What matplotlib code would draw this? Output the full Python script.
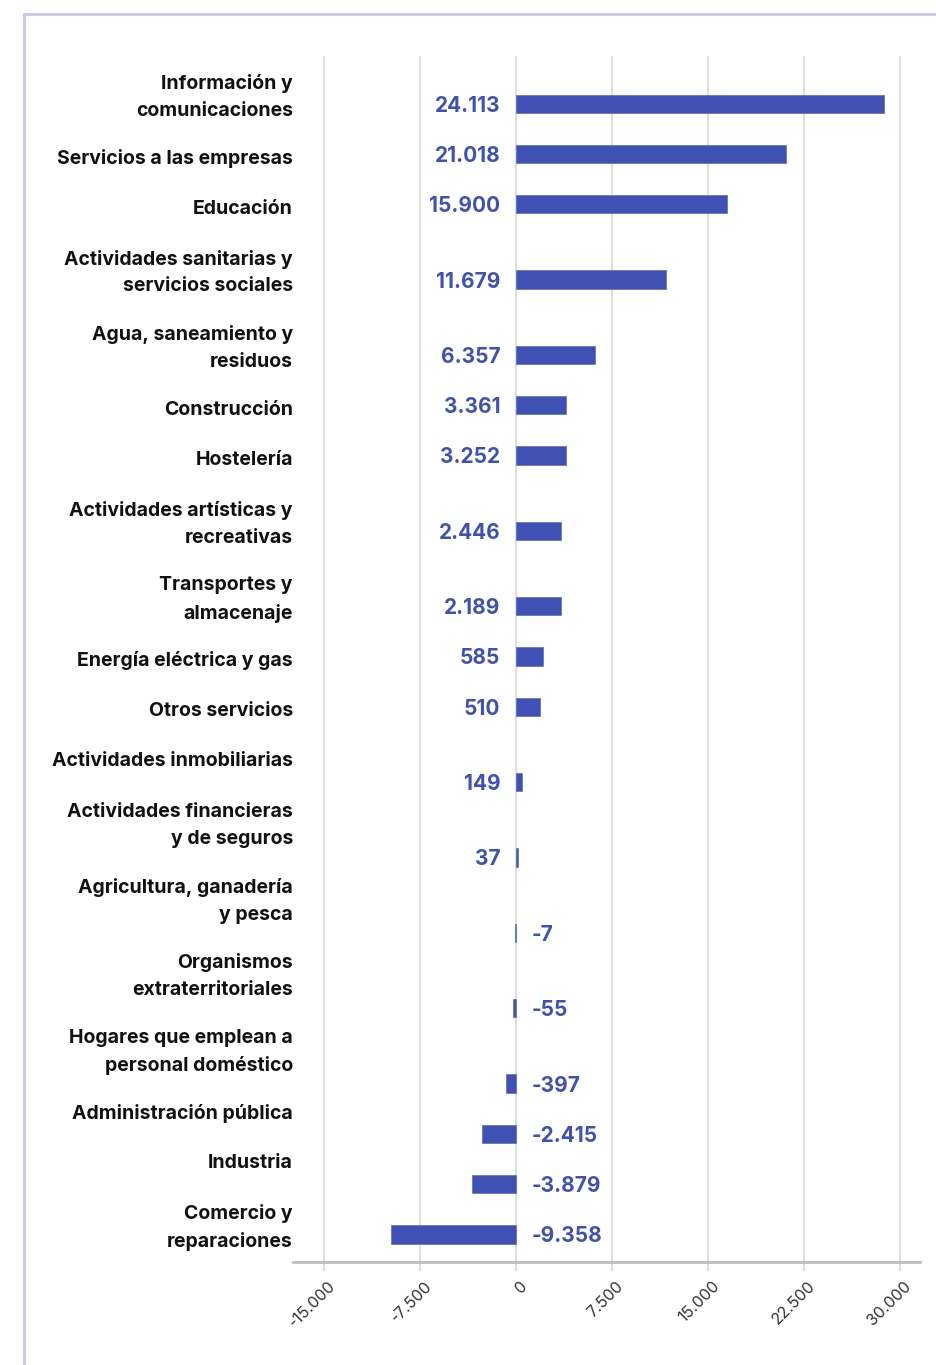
import numpy as np
import matplotlib
matplotlib.use("Agg")
from matplotlib import pyplot as plt
from matplotlib.lines import Line2D
from matplotlib.transforms import ScaledTranslation

plt.rcParams['font.family'] = ['Inter', 'DejaVu Sans']

# datos (las etiquetas son los valores publicados, las barras se leen del grafico)
categorias = ["Información y\ncomunicaciones", "Servicios a las empresas", "Educación",
              "Actividades sanitarias y\nservicios sociales", "Agua, saneamiento y\nresiduos",
              "Construcción", "Hostelería", "Actividades artísticas y\nrecreativas",
              "Transportes y\nalmacenaje", "Energía eléctrica y gas", "Otros servicios",
              "Actividades inmobiliarias", "Actividades financieras\ny de seguros",
              "Agricultura, ganadería\ny pesca", "Organismos\nextraterritoriales",
              "Hogares que emplean a\npersonal doméstico", "Administración pública",
              "Industria", "Comercio y\nreparaciones"]
valores = [24113, 21018, 15900, 11679, 6357, 3361, 3252, 2446, 2189, 585, 510,
           149, 37, -7, -55, -397, -2415, -3879, -9358]
barras = [28730, 21090, 16500, 11700, 6150, 3880, 3880, 3490, 3490, 2110, 1875,
          420, 150, -90, -280, -800, -2710, -3490, -9770]
# lineas que ocupa cada fila en la maqueta de las barras
lineas_barras = [2, 1, 1, 2, 2, 1, 1, 2, 2, 1, 1, 2, 2, 2, 2, 2, 1, 1, 1]
ticks = [-15000, -7500, 0, 7500, 15000, 22500, 30000]

AZUL = '#3f51b5'

def filas(lineas):
    alto = np.array(lineas) + 1
    fin = np.cumsum(alto)
    return fin, alto

lineas_etiq = np.array([c.count("\n") + 1 for c in categorias])
fin_e, alto_e = filas(lineas_etiq)
# las etiquetas de dos lineas quedan un poco altas en el original
y_etiq = fin_e - alto_e / 2 - 0.13 * (lineas_etiq - 1)
fin_b, _ = filas(lineas_barras)
y_barras = fin_b - 1.1

fig = plt.figure(figsize=(9.37, 13.65), dpi=100)
W, H = 937, 1365
ax = fig.add_axes([293 / W, 1 - 1262 / H, (920 - 293) / W, (1262 - 56) / H])

ax.barh(y_barras, barras, height=0.73, color=AZUL, edgecolor='#5c6bc0', linewidth=0.5, zorder=3)
ax.set_ylim(fin_e[-1], 0)
ax.set_xlim(-17450, 31550)

ax.set_xticks(ticks)
ax.set_xticklabels([f"{t:,}".replace(",", ".") for t in ticks])
ax.grid(axis='x', color='#dedede', linewidth=1.5)
ax.set_axisbelow(True)
for s in ['top', 'right', 'left']:
    ax.spines[s].set_visible(False)
ax.spines['bottom'].set_color('#bdbdbd')
ax.spines['bottom'].set_linewidth(2)
ax.tick_params(axis='x', length=6.5, width=1.5, color='#dedede', pad=9, labelsize=11.5, labelcolor='#333333')
off = ScaledTranslation(9 / 100, 0, fig.dpi_scale_trans)
for lab in ax.get_xticklabels():
    lab.set_rotation(45)
    lab.set_ha('right')
    lab.set_va('center')
    lab.set_rotation_mode('anchor')
    lab.set_transform(lab.get_transform() + off)

ax.set_yticks(y_etiq)
ax.set_yticklabels(categorias, fontweight='bold', fontsize=14, color='#111111', linespacing=1.62)
ax.tick_params(axis='y', length=0, pad=0)

for y, v in zip(y_barras, valores):
    txt = f"{v:,}".replace(",", ".")
    if v >= 0:
        ax.annotate(txt, xy=(0, y), xytext=(-16, -2), textcoords='offset pixels',
                    ha='right', va='center', color=AZUL, fontweight='bold', fontsize=15)
    else:
        ax.annotate(txt, xy=(0, y), xytext=(15, -2), textcoords='offset pixels',
                    ha='left', va='center', color=AZUL, fontweight='bold', fontsize=15)

# marco de la tarjeta
fig.add_artist(Line2D([24 / W, 1], [1 - 13.7 / H] * 2, color='#c5cae9', lw=2))
fig.add_artist(Line2D([24.3 / W] * 2, [0, 1 - 13.7 / H], color='#c5cae9', lw=2))

fig.savefig('out.png', dpi=100)
